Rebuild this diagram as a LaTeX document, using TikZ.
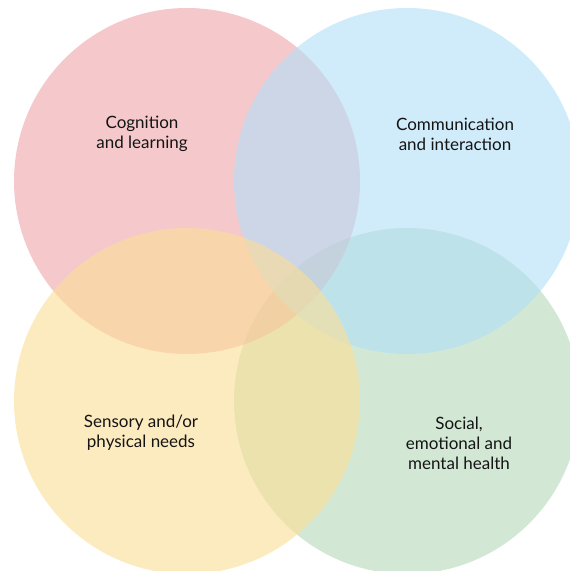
\documentclass[tikz,border=0pt]{standalone}
\usepackage{fontspec}
\setmainfont{Lato}
\definecolor{cogred}{RGB}{238,165,170}
\definecolor{comblue}{RGB}{177,223,247}
\definecolor{senyellow}{RGB}{252,222,150}
\definecolor{socgreen}{RGB}{180,217,185}
\tikzset{
    area/.style={fill opacity=0.6,draw=none},
    areatext/.style={align=center,font=\fontsize{17}{20}\selectfont,text=black!92}
}
\begin{document}
\begin{tikzpicture}[x=1pt,y=-1pt]
    \useasboundingbox (0,0) rectangle (570,571);
    % the four areas of need
    \fill[area,socgreen] (407,401) circle (173);
    \fill[area,cogred] (187,181) circle (173);
    \fill[area,comblue] (407,181) circle (173);
    \fill[area,senyellow] (187,401) circle (173);
    % labels
    \node[areatext] (cog) at (142,134) {Cognition\\and learning};
    \node[areatext] (com) at (455,134) {Communication\\and interaction};
    \node[areatext] (sen) at (141,433) {Sensory and/or\\physical needs};
    \node[areatext] (soc) at (459,443) {Social,\\emotional and\\mental health};
\end{tikzpicture}
\end{document}
